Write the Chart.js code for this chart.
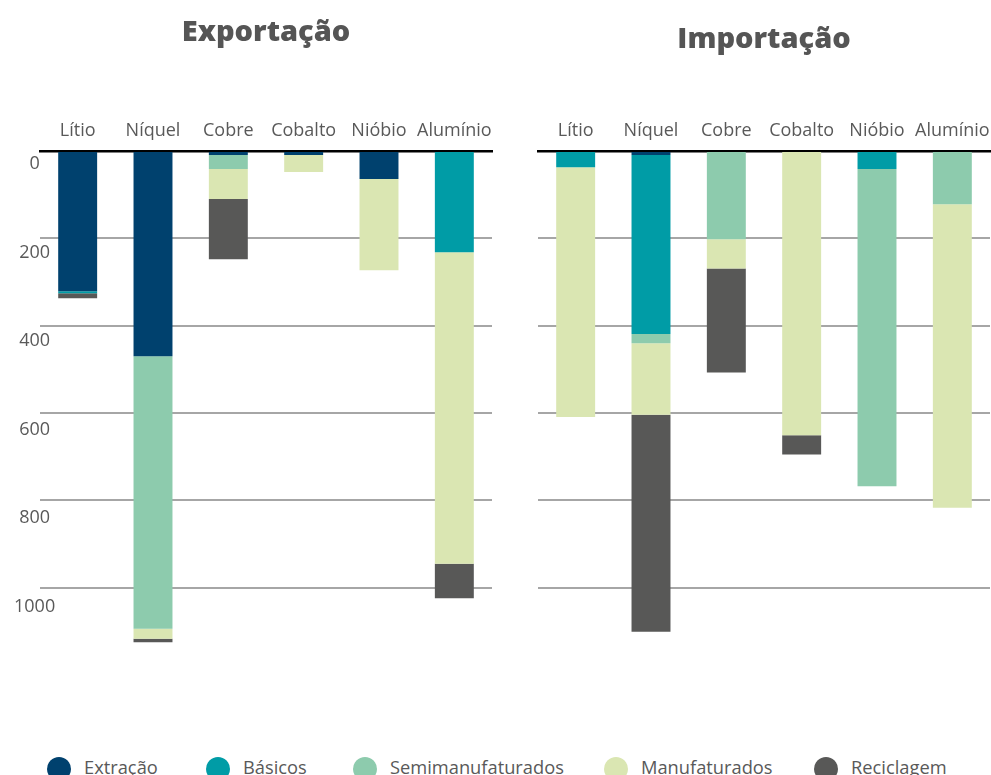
<!DOCTYPE html>
<html>
<head>
<meta charset="utf-8">
<script src="https://cdn.jsdelivr.net/npm/chart.js@4.4.1/dist/chart.umd.min.js"></script>
<style>
  body { margin: 0; width: 991px; height: 775px; overflow: hidden; position: relative; background: #fff; font-family: "Open Sans", sans-serif; }
  #exportacao { position: absolute; left: 0; top: 0; }
  #importacao { position: absolute; left: 500px; top: 0; }
  #legenda { position: absolute; left: 0; top: 757px; width: 991px; height: 24px; color: #595959; font-size: 18.3px; }
  #legenda span { position: absolute; top: 0; display: flex; align-items: center; height: 24px; white-space: nowrap; }
  #legenda i { display: inline-block; width: 24px; height: 24px; border-radius: 50%; margin-right: 13px; }
  #legenda em { font-style: normal; position: relative; top: -3px; }
</style>
</head>
<body>
<canvas id="exportacao" width="500" height="675"></canvas>
<canvas id="importacao" width="491" height="675"></canvas>
<div id="legenda"></div>
<script>
const minerais = ['Lítio', 'Níquel', 'Cobre', 'Cobalto', 'Nióbio', 'Alumínio'];
const etapas = ['Extração', 'Básicos', 'Semimanufaturados', 'Manufaturados', 'Reciclagem'];
const cores = ['#00416e', '#009ca6', '#8dcbad', '#dae6b2', '#585857'];
const gradeY = [0, 200, 400, 600, 800, 1000];

// exportação por etapa
const expExtracao = [321, 470, 9, 9, 64, 0];
const expBasicos = [5, 0, 0, 0, 0, 232];
const expSemi = [0, 624, 32, 0, 0, 0];
const expManuf = [0, 23, 69, 39, 209, 713];
const expRecic = [11, 8, 138, 0, 0, 79];

// importação por etapa
const impExtracao = [0, 9, 0, 0, 0, 0];
const impBasicos = [37, 410, 0, 0, 41, 0];
const impSemi = [0, 21, 202, 0, 727, 122];
const impManuf = [572, 164, 67, 651, 0, 695];
const impRecic = [0, 497, 238, 44, 0, 0];

const cinza = '#595959';
const fonteEixo = { family: 'Open Sans', size: 18 };
const tamTitulo = 29;

function grafico(id, titulo, topoTitulo, series, comRotulos, esquerda, direita) {
  const alturaTitulo = tamTitulo * 1.2 + topoTitulo;
  return new Chart(document.getElementById(id), {
    type: 'bar',
    data: {
      labels: minerais,
      datasets: etapas.map((nome, i) => ({
        label: nome,
        data: series[i],
        backgroundColor: cores[i],
        borderWidth: 0,
        barPercentage: 0.517,
        categoryPercentage: 1
      }))
    },
    options: {
      responsive: false,
      animation: false,
      layout: { padding: { left: 0, right: direita, top: 0, bottom: 0 } },
      plugins: {
        legend: { display: false },
        tooltip: { enabled: false },
        title: {
          display: true,
          fullSize: false,
          text: titulo,
          color: '#555555',
          font: { family: 'Open Sans', size: tamTitulo, weight: '800' },
          padding: { top: topoTitulo, bottom: 0 }
        }
      },
      scales: {
        x: {
          stacked: true,
          position: 'top',
          grid: { display: false, drawTicks: false },
          border: { color: '#000', width: 2.5 },
          ticks: { color: cinza, font: fonteEixo, padding: 9, maxRotation: 0, autoSkip: false },
          afterFit: s => {
            s.height = 151 - alturaTitulo;
            // os rótulos das pontas podem passar da área do gráfico
            s.paddingLeft = 0;
            s.paddingRight = 0;
          }
        },
        y: {
          stacked: true,
          reverse: true,
          min: 0,
          max: 1200,
          ticks: { display: false },
          grid: { color: '#a6a6a6', lineWidth: 2, drawTicks: false },
          border: { display: false },
          afterBuildTicks: s => { s.ticks = gradeY.map(v => ({ value: v })); },
          afterFit: s => { s.width = 0; }
        },
        rotulos: {
          type: 'linear',
          position: 'left',
          reverse: true,
          min: -29.4,
          max: 1154.2,
          grid: { display: false, drawTicks: false },
          border: { display: false },
          ticks: {
            display: comRotulos,
            color: cinza,
            font: fonteEixo,
            mirror: true,
            crossAlign: 'center',
            padding: -26,
            callback: v => String(v)
          },
          afterBuildTicks: s => { s.ticks = gradeY.map(v => ({ value: v })); },
          afterFit: s => { s.width = esquerda; }
        }
      }
    }
  });
}

grafico('exportacao', 'Exportação', 15,
  [expExtracao, expBasicos, expSemi, expManuf, expRecic], true, 40, 8);
grafico('importacao', 'Importação', 22,
  [impExtracao, impBasicos, impSemi, impManuf, impRecic], false, 38, 1);

// legenda comum aos dois gráficos
const inicioLegenda = [47, 206, 353, 604, 814];
const legenda = document.getElementById('legenda');
etapas.forEach((nome, i) => {
  const item = document.createElement('span');
  item.style.left = inicioLegenda[i] + 'px';
  item.innerHTML = '<i style="background:' + cores[i] + '"></i><em>' + nome + '</em>';
  legenda.appendChild(item);
});
</script>
</body>
</html>
